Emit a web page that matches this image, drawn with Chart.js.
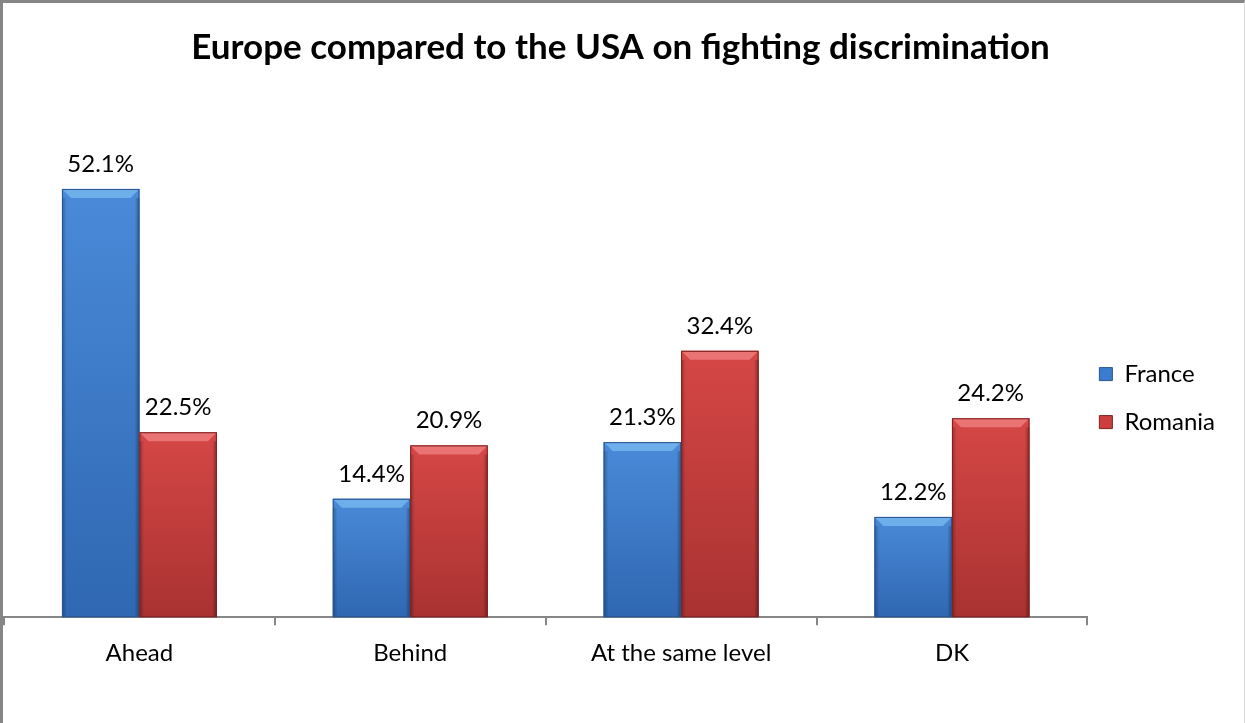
<!DOCTYPE html>
<html>
<head>
<meta charset="utf-8">
<script src="https://cdn.jsdelivr.net/npm/chart.js@4/dist/chart.umd.min.js"></script>
<style>
  html, body { margin: 0; padding: 0; background: #fff; }
  #frame {
    box-sizing: border-box;
    width: 1245px;
    height: 723px;
    border-left: 3px solid #868686;
    border-top: 3px solid #868686;
    border-right: 1px solid #d9d9d9;
    position: relative;
  }
  canvas { display: block; }
</style>
</head>
<body>
<div id="frame"><canvas id="chart" width="1241" height="720"></canvas></div>
<script>
const categories = ['Ahead', 'Behind', 'At the same level', 'DK'];
const france = [52.1, 14.4, 21.3, 12.2];
const romania = [22.5, 20.9, 32.4, 24.2];
const seriesNames = ['France', 'Romania'];

const palette = [
  { base: '#3c7cce', top: '#4a8ad8', bottom: '#2f67b2', bevel: '#6eaeea', edge: '#28558f' },
  { base: '#cc3f3e', top: '#d54746', bottom: '#a93231', bevel: '#ea7473', edge: '#7e2222' },
];

const font = 'Lato, "Noto Sans", sans-serif';

// bevelled bars, the way the spreadsheet drew them
const bevelBars = {
  id: 'bevelBars',
  afterDatasetsDraw(chart) {
    const ctx = chart.ctx;
    chart.data.datasets.forEach((ds, i) => {
      const p = palette[i];
      chart.getDatasetMeta(i).data.forEach((bar) => {
        const { x, y, base, width } = bar.getProps(['x', 'y', 'base', 'width'], true);
        const l = x - width / 2;
        const r = x + width / 2;
        const h = base - y;
        const b = Math.min(9, h / 3);
        ctx.save();
        const g = ctx.createLinearGradient(0, y, 0, base);
        g.addColorStop(0, p.top);
        g.addColorStop(1, p.bottom);
        ctx.fillStyle = g;
        ctx.fillRect(l, y, width, h);
        // top bevel
        ctx.fillStyle = p.bevel;
        ctx.beginPath();
        ctx.moveTo(l, y);
        ctx.lineTo(r, y);
        ctx.lineTo(r - b, y + b);
        ctx.lineTo(l + b, y + b);
        ctx.closePath();
        ctx.fill();
        // side shading
        const sg = ctx.createLinearGradient(l, 0, r, 0);
        sg.addColorStop(0, 'rgba(0,0,0,0.28)');
        sg.addColorStop(0.06, 'rgba(0,0,0,0)');
        sg.addColorStop(0.94, 'rgba(0,0,0,0)');
        sg.addColorStop(1, 'rgba(0,0,0,0.35)');
        ctx.fillStyle = sg;
        ctx.fillRect(l, y + b, width, h - b);
        ctx.strokeStyle = p.edge;
        ctx.lineWidth = 1;
        ctx.strokeRect(l + 0.5, y + 0.5, width - 1, h - 1);
        ctx.restore();
      });
    });
  },
};

const valueLabels = {
  id: 'valueLabels',
  afterDatasetsDraw(chart) {
    const ctx = chart.ctx;
    ctx.save();
    ctx.font = '24px ' + font;
    ctx.fillStyle = '#000';
    ctx.textAlign = 'center';
    ctx.textBaseline = 'middle';
    chart.data.datasets.forEach((ds, i) => {
      chart.getDatasetMeta(i).data.forEach((bar, j) => {
        ctx.fillText(ds.data[j].toFixed(1) + '%', bar.x, bar.y - 25);
      });
    });
    ctx.restore();
  },
};

// legend sits closer to the plot than its row padding would allow
const legendNudge = {
  id: 'legendNudge',
  afterLayout(chart) {
    chart.legend.left -= 12;
    chart.legend.right -= 12;
  },
};

new Chart(document.getElementById('chart'), {
  type: 'bar',
  data: {
    labels: categories,
    datasets: [
      { label: seriesNames[0], data: france, backgroundColor: palette[0].base, borderWidth: 0 },
      { label: seriesNames[1], data: romania, backgroundColor: palette[1].base, borderWidth: 0 },
    ],
  },
  options: {
    responsive: false,
    animation: false,
    barPercentage: 1,
    categoryPercentage: 0.572,
    layout: { padding: { left: 1, right: 7, top: 0, bottom: 41 } },
    plugins: {
      title: {
        display: true,
        text: 'Europe compared to the USA on fighting discrimination',
        color: '#000',
        font: { family: font, size: 35, weight: 'bold' },
        padding: { top: 24, bottom: 55 },
      },
      legend: {
        position: 'right',
        // empty legend title only pushes the entries down
        title: { display: true, text: ' ', font: { size: 1 }, padding: { top: 55, bottom: 55 } },
        labels: {
          color: '#000',
          font: { family: font, size: 24 },
          boxWidth: 13,
          boxHeight: 13,
          padding: 24,
          generateLabels(chart) {
            return chart.data.datasets.map((ds, i) => ({
              text: ds.label,
              fillStyle: palette[i].base,
              strokeStyle: palette[i].edge,
              fontColor: '#000',
              lineWidth: 1,
              datasetIndex: i,
            }));
          },
        },
      },
      tooltip: { enabled: false },
    },
    scales: {
      x: {
        offset: true,
        border: { color: '#868686', width: 2 },
        grid: { color: '#868686', lineWidth: 2, drawOnChartArea: false, drawTicks: true, tickLength: 8, offset: true },
        ticks: { color: '#000', font: { family: font, size: 24 }, padding: 14 },
      },
      y: {
        display: false,
        min: 0,
        max: 60,
      },
    },
  },
  plugins: [bevelBars, valueLabels, legendNudge],
});
</script>
</body>
</html>
